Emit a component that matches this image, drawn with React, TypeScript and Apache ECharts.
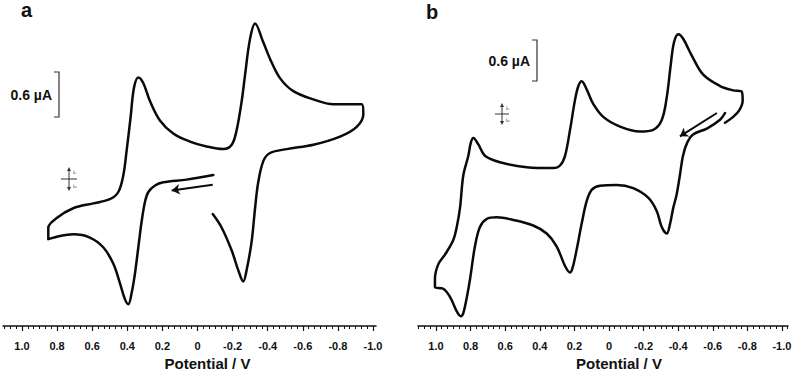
import { useEffect, useRef } from "react";
import * as echarts from "echarts";

// Tick labels (Potential / V), shared by both panels
const tickLabels = [1.0, 0.8, 0.6, 0.4, 0.2, 0, -0.2, -0.4, -0.6, -0.8, -1.0];
const minorPerMajor = 6;

// Panel a: cyclic voltammogram (potential V, current µA, arbitrary zero)
const aPotential = [-0.090, 0.062, 0.195, 0.242, 0.280, 0.299, 0.318, 0.337, 0.356, 0.375, 0.394, 0.413, 0.442, 0.480, 0.537, 0.613, 0.708, 0.783, 0.850, 0.850, 0.802, 0.708, 0.594, 0.499, 0.451, 0.423, 0.403, 0.381, 0.362, 0.337, 0.309, 0.271, 0.214, 0.138, 0.043, -0.052, -0.147, -0.195, -0.223, -0.252, -0.271, -0.299, -0.328, -0.375, -0.413, -0.470, -0.546, -0.660, -0.774, -0.936, -0.945, -0.907, -0.812, -0.660, -0.508, -0.413, -0.375, -0.346, -0.328, -0.309, -0.280, -0.261, -0.232, -0.195, -0.138, -0.087];
const aCurrent = [0.063, 0, -0.036, -0.08, -0.169, -0.303, -0.569, -0.924, -1.28, -1.547, -1.703, -1.636, -1.413, -1.147, -0.924, -0.791, -0.747, -0.769, -0.813, -0.657, -0.524, -0.391, -0.324, -0.267, -0.169, 0.053, 0.409, 0.853, 1.253, 1.396, 1.32, 1.076, 0.809, 0.631, 0.52, 0.453, 0.417, 0.476, 0.676, 1.076, 1.431, 1.92, 2.133, 1.876, 1.653, 1.387, 1.209, 1.097, 1.031, 1.031, 0.897, 0.72, 0.587, 0.476, 0.417, 0.364, 0.253, -0.036, -0.391, -0.836, -1.236, -1.391, -1.236, -0.969, -0.657, -0.471];
const aArrowPotential = [-0.087, 0.147];
const aArrowCurrent = [-0.071, -0.147];

// Panel b
const bPotential = [-0.671, -0.642, -0.566, -0.486, -0.451, -0.428, -0.410, -0.391, -0.372, -0.353, -0.334, -0.305, -0.276, -0.228, -0.140, -0.044, 0.052, 0.100, 0.129, 0.158, 0.187, 0.210, 0.225, 0.254, 0.302, 0.360, 0.438, 0.553, 0.649, 0.707, 0.746, 0.775, 0.803, 0.823, 0.842, 0.857, 0.880, 0.919, 0.958, 1.006, 1.006, 0.987, 0.948, 0.900, 0.880, 0.861, 0.842, 0.813, 0.799, 0.784, 0.755, 0.717, 0.630, 0.476, 0.322, 0.283, 0.254, 0.225, 0.197, 0.177, 0.158, 0.129, 0.091, 0.033, -0.064, -0.179, -0.256, -0.305, -0.334, -0.357, -0.376, -0.401, -0.430, -0.478, -0.545, -0.642, -0.718, -0.767, -0.773, -0.753, -0.718, -0.671];
const bCurrent = [1.005, 0.903, 0.771, 0.683, 0.552, 0.362, 0.069, -0.225, -0.419, -0.663, -0.809, -0.711, -0.468, -0.272, -0.126, -0.078, -0.088, -0.151, -0.322, -0.663, -1.054, -1.322, -1.395, -1.297, -1.004, -0.809, -0.688, -0.604, -0.565, -0.590, -0.711, -1.004, -1.493, -1.785, -2.005, -2.053, -1.98, -1.761, -1.639, -1.614, -1.493, -1.273, -1.127, -0.907, -0.711, -0.419, 0.069, 0.361, 0.556, 0.629, 0.533, 0.361, 0.263, 0.19, 0.176, 0.215, 0.361, 0.752, 1.191, 1.411, 1.484, 1.361, 1.142, 0.947, 0.801, 0.727, 0.752, 0.899, 1.24, 1.727, 2.069, 2.191, 2.118, 1.873, 1.581, 1.411, 1.346, 1.327, 1.191, 1.045, 0.947, 0.859];
const bArrowPotential = [-0.624, -0.410];
const bArrowCurrent = [1.005, 0.654];

const FONT = "'Liberation Sans', Arial, Helvetica, sans-serif";
const INK = "#111";

const zip = (xs: number[], ys: number[]) => {
  const n = Math.min(xs.length, ys.length);
  const out: number[][] = [];
  for (let i = 0; i < n; i++) out.push([xs[i], ys[i]]);
  return out;
};

const minorTicks = (() => {
  const step = 0.2 / minorPerMajor;
  const out: number[] = [];
  for (let k = -8 * minorPerMajor; k <= 8 * minorPerMajor; k++) {
    if (k % minorPerMajor === 0) continue;
    out.push(Math.round(k * step * 10000) / 10000);
  }
  return out;
})();

const fmt = (v: number) => (Math.abs(v) < 1e-9 ? "0" : v.toFixed(1));

function makeAxes(gridIndex: number, min: number, max: number, namePad: number) {
  const major = {
    gridIndex,
    type: "value",
    min,
    max,
    inverse: true,
    position: "bottom",
    axisLine: { show: true, onZero: false, lineStyle: { color: INK, width: 1.5 } },
    axisTick: { show: true, customValues: tickLabels, length: 5, lineStyle: { color: INK, width: 1.2 } },
    axisLabel: {
      show: true,
      customValues: tickLabels,
      formatter: (v: number) => fmt(v),
      margin: 14,
      fontSize: 11,
      fontWeight: "bold",
      fontFamily: FONT,
      color: INK,
    },
    splitLine: { show: false },
    name: "Potential / V",
    nameLocation: "middle",
    nameGap: 30,
    nameTextStyle: { fontSize: 15, fontWeight: "bold", fontFamily: FONT, color: INK, padding: [0, 0, 0, namePad] },
  };
  const minor = {
    gridIndex,
    type: "value",
    min,
    max,
    inverse: true,
    position: "bottom",
    axisLine: { show: false, onZero: false },
    axisTick: { show: true, customValues: minorTicks, length: 3, lineStyle: { color: INK, width: 1 } },
    axisLabel: { show: false },
    splitLine: { show: false },
  };
  return [major, minor];
}

function crossSymbol(cx: number, cy: number, half: number, hw: number) {
  return {
    type: "group",
    children: [
      { type: "line", shape: { x1: cx, y1: cy - half + 2, x2: cx, y2: cy + half - 2 }, style: { stroke: "#333", lineWidth: 1 } },
      { type: "line", shape: { x1: cx - hw, y1: cy, x2: cx + hw, y2: cy }, style: { stroke: "#333", lineWidth: 1 } },
      { type: "polygon", shape: { points: [[cx, cy - half], [cx - 2, cy - half + 4], [cx + 2, cy - half + 4]] }, style: { fill: "#333" } },
      { type: "polygon", shape: { points: [[cx, cy + half], [cx - 2, cy + half - 4], [cx + 2, cy + half - 4]] }, style: { fill: "#333" } },
      {
        type: "text",
        x: cx + 4,
        y: cy - half + 2,
        style: { text: "{m|i}{s|c}", rich: { m: { fontSize: 6, fontFamily: FONT, fill: "#444" }, s: { fontSize: 4, fontFamily: FONT, fill: "#444" } } },
      },
      {
        type: "text",
        x: cx + 4,
        y: cy + half - 8,
        style: { text: "{m|i}{s|a}", rich: { m: { fontSize: 6, fontFamily: FONT, fill: "#444" }, s: { fontSize: 4, fontFamily: FONT, fill: "#444" } } },
      },
    ],
  };
}

function scaleBar(x: number, y1: number, y2: number, label: string) {
  return {
    type: "group",
    children: [
      { type: "polyline", shape: { points: [[x - 5, y1], [x, y1], [x, y2], [x - 5, y2]] }, style: { stroke: "#333", lineWidth: 1.2, fill: null } },
      {
        type: "text",
        x: x - 7,
        y: (y1 + y2) / 2,
        style: { text: label, font: `bold 14px ${FONT}`, fill: INK, align: "right", verticalAlign: "middle" },
      },
    ],
  };
}

export default function App() {
  const ref = useRef<HTMLDivElement>(null);
  useEffect(() => {
    if (!ref.current) return;
    const chart = echarts.init(ref.current, null, { renderer: "svg" });
    const [ax0, ax1] = makeAxes(0, -1.017, 1.108, 36);
    const [bx0, bx1] = makeAxes(1, -1.035, 1.104, 32);
    const curveStyle = { color: "#0a0a0a", width: 2.5, join: "round", cap: "round" };
    const option: any = {
      animation: false,
      backgroundColor: "#fff",
      grid: [
        { left: 3, top: 4, width: 373, height: 330 },
        { left: 418, top: 7, width: 370, height: 328 },
      ],
      xAxis: [ax0, ax1, bx0, bx1],
      yAxis: [
        { gridIndex: 0, type: "value", min: -2.0, max: 2.4, show: false },
        { gridIndex: 1, type: "value", min: -2.2, max: 2.6, show: false },
      ],
      series: [
        {
          type: "line",
          xAxisIndex: 0,
          yAxisIndex: 0,
          data: zip(aPotential, aCurrent),
          symbol: "none",
          smooth: 0.35,
          clip: false,
          lineStyle: curveStyle,
        },
        {
          type: "line",
          xAxisIndex: 2,
          yAxisIndex: 1,
          data: zip(bPotential, bCurrent),
          symbol: "none",
          smooth: 0.35,
          clip: false,
          lineStyle: curveStyle,
        },
        {
          type: "lines",
          coordinateSystem: "cartesian2d",
          xAxisIndex: 0,
          yAxisIndex: 0,
          symbol: ["none", "arrow"],
          symbolSize: 8,
          lineStyle: { color: "#0a0a0a", width: 2, opacity: 1 },
          data: [{ coords: zip(aArrowPotential, aArrowCurrent) }],
        },
        {
          type: "lines",
          coordinateSystem: "cartesian2d",
          xAxisIndex: 2,
          yAxisIndex: 1,
          symbol: ["none", "arrow"],
          symbolSize: 8,
          lineStyle: { color: "#0a0a0a", width: 2, opacity: 1 },
          data: [{ coords: zip(bArrowPotential, bArrowCurrent) }],
        },
      ],
      graphic: [
        { type: "text", x: 21, y: 0, style: { text: "a", font: `bold 20px ${FONT}`, fill: INK } },
        { type: "text", x: 426, y: 2, style: { text: "b", font: `bold 20px ${FONT}`, fill: INK } },
        scaleBar(59, 72, 117, "0.6 µA"),
        scaleBar(537, 40, 81, "0.6 µA"),
        crossSymbol(69, 179, 12, 8),
        crossSymbol(502, 114, 11, 7),
      ],
    };
    chart.setOption(option);
    return () => chart.dispose();
  }, []);
  return (
    <div
      ref={ref}
      style={{ position: "fixed", left: 0, top: 0, width: 800, height: 376, background: "#fff" }}
    />
  );
}
